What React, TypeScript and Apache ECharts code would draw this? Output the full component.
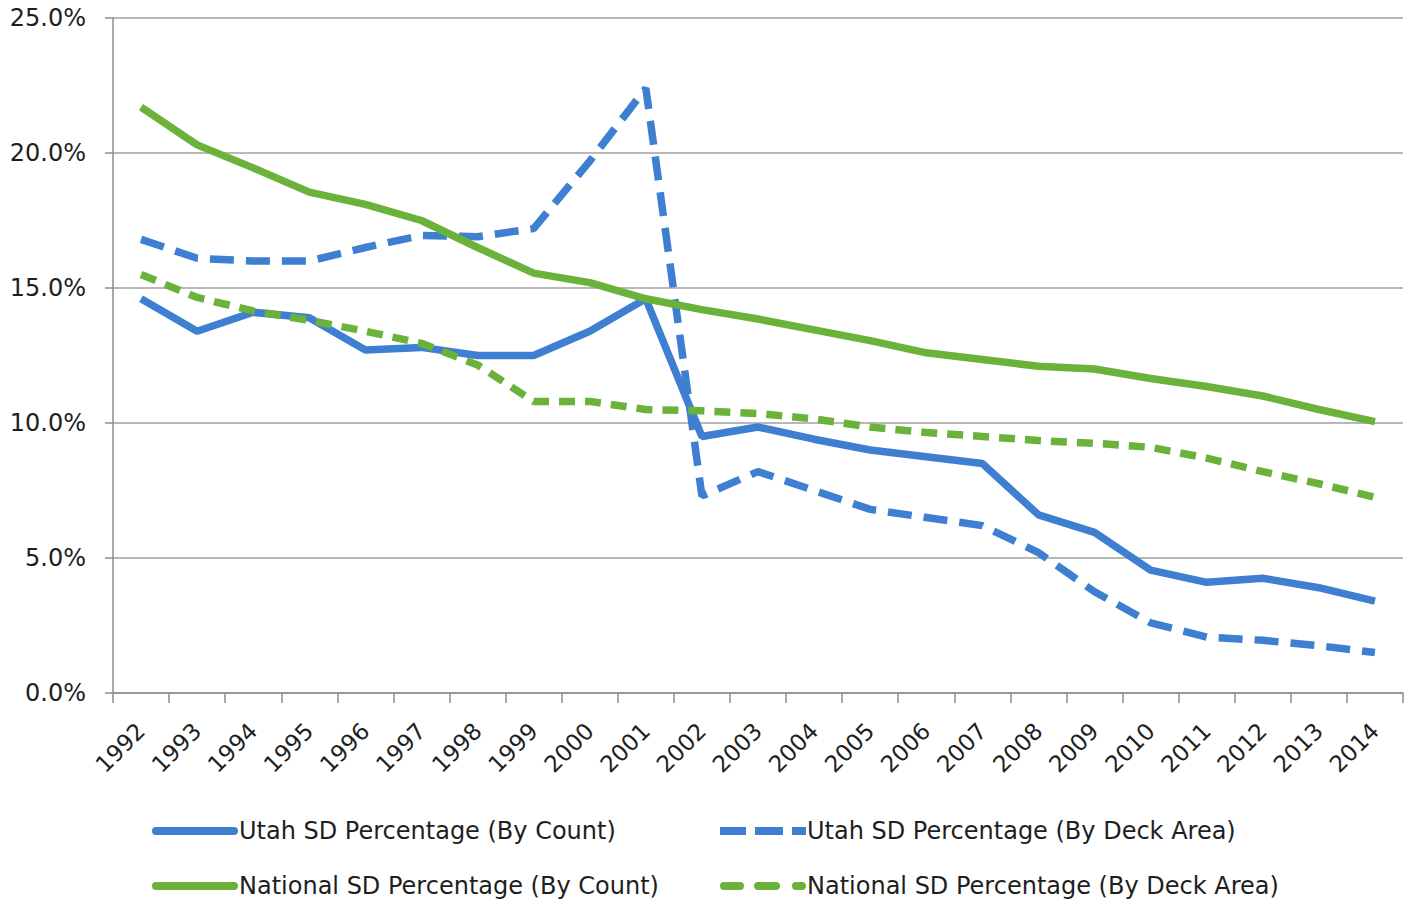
import React, { useEffect, useRef } from "react";
import * as echarts from "echarts";

const years = ["1992","1993","1994","1995","1996","1997","1998","1999","2000","2001","2002","2003","2004","2005","2006","2007","2008","2009","2010","2011","2012","2013","2014"];
const utahCount = [14.6,13.4,14.1,13.9,12.7,12.8,12.5,12.5,13.4,14.6,9.5,9.85,9.4,9.0,8.75,8.5,6.6,5.95,4.55,4.1,4.25,3.9,3.4];
const utahDeck = [16.8,16.1,16.0,16.0,16.5,16.95,16.9,17.2,19.7,22.4,7.3,8.2,7.5,6.8,6.5,6.2,5.2,3.75,2.6,2.07,1.95,1.75,1.5];
const natCount = [21.7,20.3,19.45,18.55,18.1,17.5,16.5,15.55,15.2,14.6,14.2,13.85,13.45,13.05,12.6,12.35,12.1,12.0,11.65,11.35,11.0,10.5,10.05];
const natDeck = [15.5,14.65,14.15,13.8,13.4,12.95,12.15,10.8,10.8,10.5,10.45,10.35,10.15,9.85,9.65,9.5,9.35,9.25,9.1,8.7,8.2,7.75,7.25];

const seriesNames = [
  "Utah SD Percentage (By Count)",
  "Utah SD Percentage (By Deck Area)",
  "National SD Percentage (By Count)",
  "National SD Percentage (By Deck Area)",
];

const BLUE = "#3F7FD1";
const GREEN = "#6BB23A";
const FONT = "DejaVu Sans";
const TEXT = "#1e1e1e";

const ICON_SOLID = "path://M4,0H82A4,4 0 0 1 82,8H4A4,4 0 0 1 4,0Z";
const ICON_BLUE_DASH = "path://M0,0H26V8H0Z M35,0H63V8H35Z M72,0H86V8H72Z";
const ICON_GREEN_DASH =
  "path://M4,0H20A4,4 0 0 1 20,8H4A4,4 0 0 1 4,0Z M38,0H56A4,4 0 0 1 56,8H38A4,4 0 0 1 38,0Z M76,0H82A4,4 0 0 1 82,8H76A4,4 0 0 1 76,0Z";

export default function App() {
  const ref = useRef<HTMLDivElement>(null);
  useEffect(() => {
    if (!ref.current) return;
    const chart = echarts.init(ref.current, null, { renderer: "svg" });
    const mkLegend = (name: string, icon: string, color: string, left: number, top: number) => ({
      data: [{ name, icon, itemStyle: { color } }],
      left,
      top,
      itemWidth: 86,
      itemHeight: 8,
      itemGap: 0,
      padding: 0,
      textStyle: { fontFamily: FONT, fontSize: 24, color: TEXT, padding: [0, 0, 0, -4] },
      selectedMode: false,
    });
    const mkSeries = (name: string, data: number[], color: string, type: any) => ({
      name,
      type: "line",
      data,
      symbol: "none",
      showSymbol: false,
      lineStyle: { color, width: 7.5, type },
      itemStyle: { color },
      z: 2,
    });
    chart.setOption({
      animation: false,
      backgroundColor: "#fff",
      grid: { left: 113, right: 9, top: 18, bottom: 207, containLabel: false },
      legend: [
        mkLegend(seriesNames[0], ICON_SOLID, BLUE, 152, 819),
        mkLegend(seriesNames[1], ICON_BLUE_DASH, BLUE, 720, 819),
        mkLegend(seriesNames[2], ICON_SOLID, GREEN, 152, 874),
        mkLegend(seriesNames[3], ICON_GREEN_DASH, GREEN, 720, 874),
      ],
      xAxis: {
        type: "category",
        data: years,
        boundaryGap: true,
        axisLine: { lineStyle: { color: "#8c8c8c", width: 1.5 } },
        axisTick: { show: true, length: 10, interval: 0, lineStyle: { color: "#8c8c8c", width: 1.5 } },
        axisLabel: {
          rotate: 45,
          interval: 0,
          margin: 34,
          fontFamily: FONT,
          fontSize: 23,
          color: TEXT,
        },
      },
      yAxis: {
        type: "value",
        min: 0,
        max: 25,
        interval: 5,
        axisLine: { show: true, lineStyle: { color: "#8c8c8c", width: 1.5 } },
        axisTick: { show: true, length: 8, lineStyle: { color: "#8c8c8c", width: 1.5 } },
        splitLine: { lineStyle: { color: "#a0a0a0", width: 1.5 } },
        axisLabel: {
          formatter: (v: number) => v.toFixed(1) + "%",
          fontFamily: FONT,
          fontSize: 24,
          color: TEXT,
          margin: 27,
        },
      },
      series: [
        mkSeries(seriesNames[0], utahCount, BLUE, "solid"),
        mkSeries(seriesNames[1], utahDeck, BLUE, [24, 12]),
        mkSeries(seriesNames[2], natCount, GREEN, "solid"),
        mkSeries(seriesNames[3], natDeck, GREEN, [16, 10]),
      ],
    });
    return () => chart.dispose();
  }, []);
  return (
    <div
      ref={ref}
      style={{ position: "fixed", left: 0, top: 0, width: 1412, height: 900, background: "#fff" }}
    />
  );
}
